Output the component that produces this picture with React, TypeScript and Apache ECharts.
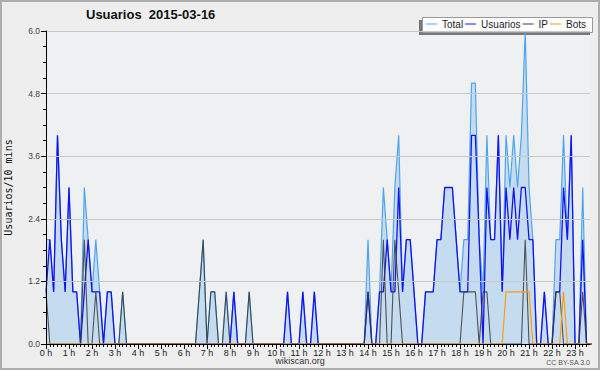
import React, { useEffect, useRef } from "react";
import * as echarts from "echarts";

const titleText = "Usuarios  2015-03-16";
const yAxisName = "Usuarios/10 mins";
const seriesNames = ["Total", "Usuarios", "IP", "Bots"];
const footerSite = "wikiscan.org";
const footerLicense = "CC BY-SA 3.0";

// 144 ten-minute slots (index 0 = 0:00, 6 slots per hour)
const slotsPerHour = 6;
const hourTicks = Array.from({ length: 24 }, (_, h) => h * slotsPerHour);

const total = [
  2, 2, 1, 4, 2, 1, 3, 1, 1, 0,
  3, 2, 1, 2, 1, 0, 1, 1, 0, 0,
  1, 0, 0, 0, 0, 0, 0, 0, 0, 0,
  0, 0, 0, 0, 0, 0, 0, 0, 0, 0,
  1, 2, 0, 1, 1, 0, 0, 1, 0, 1,
  0, 0, 0, 1, 0, 0, 0, 0, 0, 0,
  0, 0, 0, 1, 0, 0, 0, 1, 0, 0,
  1, 0, 0, 0, 0, 0, 0, 0, 0, 0,
  0, 0, 0, 0, 2, 0, 0, 1, 3, 2,
  1, 3, 4, 1, 2, 2, 1, 0, 0, 1,
  1, 1, 2, 2, 3, 3, 3, 2, 1, 2,
  2, 5, 5, 2, 1, 4, 2, 2, 4, 1,
  4, 3, 4, 3, 4, 6, 3, 2, 0, 0,
  1, 0, 0, 2, 2, 4, 2, 4, 0, 0,
  3, 0, 0, 0,
];

const usuarios = [
  1, 2, 1, 4, 2, 1, 3, 1, 1, 0,
  1, 2, 1, 1, 1, 0, 1, 1, 0, 0,
  0, 0, 0, 0, 0, 0, 0, 0, 0, 0,
  0, 0, 0, 0, 0, 0, 0, 0, 0, 0,
  0, 0, 0, 0, 0, 0, 0, 0, 0, 1,
  0, 0, 0, 0, 0, 0, 0, 0, 0, 0,
  0, 0, 0, 1, 0, 0, 0, 1, 0, 0,
  1, 0, 0, 0, 0, 0, 0, 0, 0, 0,
  0, 0, 0, 0, 1, 0, 0, 1, 1, 2,
  1, 1, 3, 1, 2, 2, 1, 0, 0, 1,
  1, 1, 2, 2, 3, 3, 3, 2, 1, 1,
  1, 4, 4, 2, 0, 3, 2, 2, 4, 1,
  3, 2, 3, 2, 3, 3, 2, 2, 0, 0,
  1, 0, 0, 1, 1, 3, 2, 4, 0, 0,
  2, 0, 0, 0,
];

const ip = [
  1, 0, 0, 0, 0, 0, 0, 0, 0, 0,
  2, 0, 0, 1, 0, 0, 0, 0, 0, 0,
  1, 0, 0, 0, 0, 0, 0, 0, 0, 0,
  0, 0, 0, 0, 0, 0, 0, 0, 0, 0,
  1, 2, 0, 1, 1, 0, 0, 1, 0, 0,
  0, 0, 0, 1, 0, 0, 0, 0, 0, 0,
  0, 0, 0, 0, 0, 0, 0, 0, 0, 0,
  0, 0, 0, 0, 0, 0, 0, 0, 0, 0,
  0, 0, 0, 0, 1, 0, 0, 0, 2, 0,
  0, 2, 1, 0, 0, 0, 0, 0, 0, 0,
  0, 0, 0, 0, 0, 0, 0, 0, 0, 1,
  1, 1, 1, 0, 1, 1, 0, 0, 0, 0,
  0, 0, 0, 0, 0, 2, 0, 0, 0, 0,
  0, 0, 0, 1, 1, 0, 0, 0, 0, 0,
  1, 0, 0, 0,
];

const bots = [
  0, 0, 0, 0, 0, 0, 0, 0, 0, 0,
  0, 0, 0, 0, 0, 0, 0, 0, 0, 0,
  0, 0, 0, 0, 0, 0, 0, 0, 0, 0,
  0, 0, 0, 0, 0, 0, 0, 0, 0, 0,
  0, 0, 0, 0, 0, 0, 0, 0, 0, 0,
  0, 0, 0, 0, 0, 0, 0, 0, 0, 0,
  0, 0, 0, 0, 0, 0, 0, 0, 0, 0,
  0, 0, 0, 0, 0, 0, 0, 0, 0, 0,
  0, 0, 0, 0, 0, 0, 0, 0, 0, 0,
  0, 0, 0, 0, 0, 0, 0, 0, 0, 0,
  0, 0, 0, 0, 0, 0, 0, 0, 0, 0,
  0, 0, 0, 0, 0, 0, 0, 0, 0, 0,
  1, 1, 1, 1, 1, 1, 1, 0, 0, 0,
  0, 0, 0, 0, 0, 1, 0, 0, 0, 0,
  0, 0, 0, 0,
];

const yMin = 0;
const yMax = 6;
const yInterval = 1.2;
// visible x range, in ten-minute slots (the plot is cut just before 23:40)
const xMin = 0;
const xMax = 141.9;

const colors = {
  total: "#4ea5ee",
  totalFill: "#c5dbef",
  usuarios: "#1414f0",
  ip: "#3a3a3a",
  bots: "#ff9a00",
};

const toPoints = (arr: number[]) => arr.map((v, i) => [i, v]);

export default function App() {
  const ref = useRef<HTMLDivElement>(null);

  useEffect(() => {
    const chart = echarts.init(ref.current as HTMLDivElement, null, { renderer: "svg" });
    const font = "Liberation Sans, Arial, sans-serif";
    const slotTicks = Array.from({ length: Math.floor(xMax) + 1 }, (_, i) => i);
    chart.setOption({
      animation: false,
      backgroundColor: "#eeeeee",
      title: {
        text: titleText,
        left: 86,
        top: 8,
        padding: 0,
        textStyle: { fontFamily: font, fontSize: 13, fontWeight: "bold", color: "#111" },
      },
      legend: {
        data: seriesNames,
        left: 426,
        top: 19,
        padding: 0,
        z: 20,
        itemGap: 2,
        itemWidth: 11,
        itemHeight: 1,
        icon: "rect",
        textStyle: { fontFamily: font, fontSize: 10, color: "#222" },
      },
      grid: {
        left: 46,
        right: 10,
        top: 31,
        bottom: 26,
        show: true,
        backgroundColor: "#eff0f2",
        borderWidth: 0,
        containLabel: false,
        outerBoundsMode: "none",
      },
      xAxis: [
        {
          type: "value",
          min: xMin,
          max: xMax,
          position: "bottom",
          z: 10,
          axisLine: { show: true, onZero: false, lineStyle: { color: "#000", width: 1 } },
          axisTick: { show: true, customValues: slotTicks, length: 3, lineStyle: { color: "#000" } },
          axisLabel: {
            customValues: hourTicks,
            margin: 4,
            fontFamily: font,
            fontSize: 9,
            color: "#222",
            formatter: (v: number) => `${Math.round(v / slotsPerHour)} h`,
          },
          splitLine: { show: false },
        },
        {
          type: "value",
          min: xMin,
          max: xMax,
          position: "bottom",
          z: 10,
          axisLine: { show: false, onZero: false },
          axisTick: { show: true, customValues: hourTicks, length: 5, lineStyle: { color: "#000" } },
          axisLabel: { show: false },
          splitLine: { show: false },
        },
      ],
      yAxis: {
        type: "value",
        min: yMin,
        max: yMax,
        interval: yInterval,
        name: yAxisName,
        nameLocation: "middle",
        nameGap: 33,
        nameTextStyle: { fontFamily: "DejaVu Sans Mono", fontSize: 10, color: "#111" },
        z: 10,
        axisLine: { show: true, lineStyle: { color: "#000", width: 1 } },
        axisTick: { show: true, length: 5, lineStyle: { color: "#000" } },
        minorTick: { show: true, splitNumber: 4, length: 3, lineStyle: { color: "#000" } },
        splitLine: { show: true, lineStyle: { color: "#c8c8c8", width: 1 } },
        axisLabel: {
          margin: 6,
          fontFamily: font,
          fontSize: 8.5,
          color: "#444",
          formatter: (v: number) => v.toFixed(1),
        },
      },
      series: [
        {
          name: "Total",
          type: "line",
          data: toPoints(total),
          color: colors.total,
          showSymbol: false,
          clip: true,
          lineStyle: { width: 1.2, color: colors.total },
          areaStyle: { color: colors.totalFill, opacity: 1 },
        },
        {
          name: "Usuarios",
          type: "line",
          data: toPoints(usuarios),
          color: colors.usuarios,
          showSymbol: false,
          clip: true,
          lineStyle: { width: 1.3, color: colors.usuarios },
        },
        {
          name: "IP",
          type: "line",
          data: toPoints(ip),
          color: colors.ip,
          showSymbol: false,
          clip: true,
          lineStyle: { width: 1.1, color: colors.ip, opacity: 0.85 },
        },
        {
          name: "Bots",
          type: "line",
          data: toPoints(bots),
          color: colors.bots,
          showSymbol: false,
          clip: true,
          lineStyle: { width: 1.1, color: colors.bots },
        },
      ],
      graphic: [
        {
          type: "rect",
          z: 0,
          shape: { x: 1, y: 1, width: 598, height: 368 },
          style: { fill: "none", stroke: "#adadad", lineWidth: 2 },
          silent: true,
        },
        {
          type: "rect",
          z: 1,
          shape: { x: 419, y: 20, width: 171, height: 15 },
          style: { fill: "#777" },
          silent: true,
        },
        {
          type: "rect",
          z: 2,
          shape: { x: 422.5, y: 17.5, width: 170, height: 15 },
          style: { fill: "#fff", stroke: "#999", lineWidth: 1 },
          silent: true,
        },
        {
          type: "text",
          x: 300,
          y: 361,
          style: {
            text: footerSite,
            fontFamily: font,
            fontSize: 9,
            fill: "#333",
            align: "center",
            verticalAlign: "middle",
          },
          silent: true,
        },
        {
          type: "text",
          x: 590,
          y: 362,
          style: {
            text: footerLicense,
            fontFamily: font,
            fontSize: 7,
            fill: "#555",
            align: "right",
            verticalAlign: "middle",
          },
          silent: true,
        },
      ],
    });
    return () => chart.dispose();
  }, []);

  return (
    <div
      ref={ref}
      style={{ position: "absolute", left: 0, top: 0, width: 600, height: 370 }}
    />
  );
}
